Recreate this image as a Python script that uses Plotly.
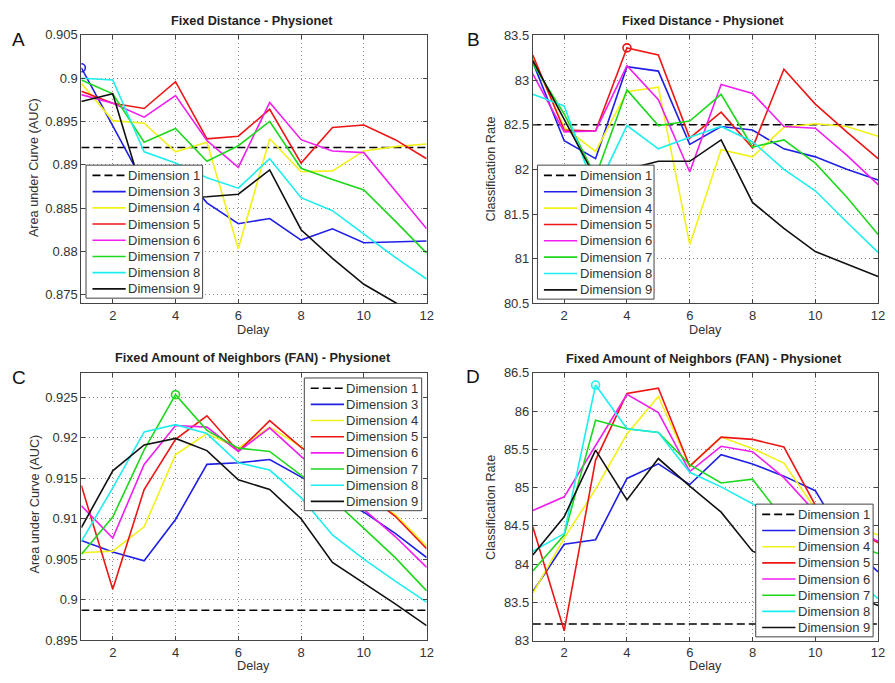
import plotly.graph_objects as go

W, H = 895, 683

delays = [1, 2, 3, 4, 5, 6, 7, 8, 9, 10, 11, 12]
dim_names = ["Dimension 1", "Dimension 3", "Dimension 4", "Dimension 5",
             "Dimension 6", "Dimension 7", "Dimension 8", "Dimension 9"]

# Panel A: Fixed Distance - AUC
A_d1 = [0.892, 0.892, 0.892, 0.892, 0.892, 0.892, 0.892, 0.892, 0.892, 0.892, 0.892, 0.892]
A_d3 = [0.9012, 0.8945, 0.8878, 0.8899, 0.8856, 0.8832, 0.8838, 0.8813, 0.8826, 0.8810, 0.8811, 0.8812]
A_d4 = [0.8994, 0.8951, 0.8948, 0.8915, 0.8926, 0.8803, 0.8930, 0.8892, 0.8893, 0.8916, 0.8921, 0.8924]
A_d5 = [0.8985, 0.8971, 0.8965, 0.8996, 0.8930, 0.8933, 0.8964, 0.8902, 0.8943, 0.8946, 0.8929, 0.8907]
A_d6 = [0.8981, 0.8971, 0.8955, 0.8980, 0.8928, 0.8897, 0.8972, 0.8929, 0.8916, 0.8914, 0.8870, 0.8826]
A_d7 = [0.8998, 0.8982, 0.8926, 0.8942, 0.8904, 0.8922, 0.8950, 0.8896, 0.8883, 0.8871, 0.8835, 0.8798]
A_d8 = [0.9000, 0.8998, 0.8915, 0.8902, 0.8885, 0.8873, 0.8907, 0.8862, 0.8847, 0.8820, 0.8793, 0.8768]
A_d9 = [0.8973, 0.8982, 0.8862, 0.8862, 0.8863, 0.8866, 0.8894, 0.8825, 0.8792, 0.8762, 0.8741, 0.8718]

# Panel B: Fixed Distance - Classification Rate
B_d1 = [82.5, 82.5, 82.5, 82.5, 82.5, 82.5, 82.5, 82.5, 82.5, 82.5, 82.5, 82.5]
B_d3 = [83.20, 82.32, 82.12, 83.15, 83.10, 82.28, 82.48, 82.44, 82.23, 82.14, 82.00, 81.88]
B_d4 = [83.24, 82.47, 82.20, 82.87, 82.92, 81.16, 82.22, 82.14, 82.47, 82.51, 82.48, 82.37]
B_d5 = [83.28, 82.44, 82.43, 83.36, 83.28, 82.35, 82.64, 82.24, 83.12, 82.73, 82.42, 82.12]
B_d6 = [83.07, 82.42, 82.43, 83.16, 82.78, 81.97, 82.95, 82.85, 82.48, 82.46, 82.16, 81.83]
B_d7 = [83.18, 82.62, 81.92, 82.89, 82.49, 82.54, 82.84, 82.25, 82.33, 82.07, 81.69, 81.27]
B_d8 = [82.84, 82.71, 81.75, 82.49, 82.23, 82.36, 82.48, 82.31, 82.00, 81.76, 81.41, 81.07]
B_d9 = [83.22, 82.56, 81.90, 82.00, 82.09, 82.09, 82.33, 81.63, 81.34, 81.08, 80.94, 80.80]

# Panel C: FAN - AUC
C_d1 = [0.8987, 0.8987, 0.8987, 0.8987, 0.8987, 0.8987, 0.8987, 0.8987, 0.8987, 0.8987, 0.8987, 0.8987]
C_d3 = [0.9073, 0.9059, 0.9048, 0.9099, 0.9167, 0.9169, 0.9173, 0.9152, 0.9130, 0.9108, 0.9082, 0.9052]
C_d4 = [0.9058, 0.9060, 0.9090, 0.9179, 0.9205, 0.9187, 0.9213, 0.9189, 0.9160, 0.9130, 0.9105, 0.9066]
C_d5 = [0.9141, 0.9013, 0.9136, 0.9198, 0.9227, 0.9183, 0.9221, 0.9188, 0.9162, 0.9133, 0.9103, 0.9063]
C_d6 = [0.9116, 0.9076, 0.9167, 0.9215, 0.9213, 0.9183, 0.9212, 0.9177, 0.9145, 0.9112, 0.9078, 0.9040]
C_d7 = [0.9056, 0.9102, 0.9185, 0.9253, 0.9209, 0.9187, 0.9183, 0.9154, 0.9124, 0.9088, 0.9052, 0.9011]
C_d8 = [0.9072, 0.9138, 0.9207, 0.9216, 0.9205, 0.9169, 0.9160, 0.9126, 0.9080, 0.9050, 0.9023, 0.8997]
C_d9 = [0.9089, 0.9159, 0.9191, 0.9199, 0.9184, 0.9148, 0.9136, 0.9100, 0.9046, 0.9021, 0.8995, 0.8968]

# Panel D: FAN - Classification Rate
D_d1 = [83.22, 83.22, 83.22, 83.22, 83.22, 83.22, 83.22, 83.22, 83.22, 83.22, 83.22, 83.22]
D_d3 = [83.64, 84.26, 84.32, 85.12, 85.31, 85.04, 85.43, 85.31, 85.15, 84.96, 84.28, 83.90]
D_d4 = [83.62, 84.34, 84.98, 85.70, 86.19, 85.28, 85.66, 85.51, 85.32, 84.72, 84.55, 84.38]
D_d5 = [84.49, 83.13, 85.36, 86.23, 86.30, 85.28, 85.66, 85.63, 85.53, 84.77, 84.52, 84.28]
D_d6 = [84.70, 84.88, 85.55, 86.22, 85.98, 85.21, 85.54, 85.47, 85.13, 84.68, 84.50, 84.30]
D_d7 = [83.91, 84.38, 85.88, 85.77, 85.72, 85.30, 85.06, 85.11, 84.58, 84.40, 84.28, 84.14]
D_d8 = [84.17, 84.40, 86.34, 85.77, 85.72, 85.20, 85.01, 84.79, 84.55, 84.25, 83.90, 83.55]
D_d9 = [84.12, 84.62, 85.49, 84.84, 85.38, 85.02, 84.68, 84.17, 84.00, 83.80, 83.62, 83.46]

# Best points (open circles): (delay, series index in dim list)
A_best = (1, 1)
B_best = (4, 3)
C_best = (4, 5)
D_best = (3, 6)

colors = ["#000000", "#1f1fe6", "#f2f21a", "#ee1515", "#f01ef0", "#1ed81e", "#1eeeee", "#111111"]
dashes = ["8px,4px", "solid", "solid", "solid", "solid", "solid", "solid", "solid"]

panels = [
    dict(series=[A_d1, A_d3, A_d4, A_d5, A_d6, A_d7, A_d8, A_d9], best=A_best,
         title="Fixed Distance - Physionet", ylabel="Area under Curve (AUC)", letter="A",
         yrange=[0.874, 0.905],
         yticks=[0.875, 0.88, 0.885, 0.89, 0.895, 0.9, 0.905],
         yticktext=["0.875", "0.88", "0.885", "0.89", "0.895", "0.9", "0.905"],
         xdom=(82, 430), ydom=(28.5, 303), legend=(86.7, 161.7, 117.5, 136),
         title_pos=(254, 14), letter_pos=(19, 33), ylab_pos=(35, 164), xlab_pos=(256, 330)),
    dict(series=[B_d1, B_d3, B_d4, B_d5, B_d6, B_d7, B_d8, B_d9], best=B_best,
         title="Fixed Distance - Physionet", ylabel="Classification Rate", letter="B",
         yrange=[80.5, 83.5],
         yticks=[80.5, 81, 81.5, 82, 82.5, 83, 83.5],
         yticktext=["80.5", "81", "81.5", "82", "82.5", "83", "83.5"],
         xdom=(537, 885), ydom=(29, 303), legend=(541.7, 161.7, 117.5, 137),
         title_pos=(709, 14), letter_pos=(477, 33), ylab_pos=(495, 166), xlab_pos=(711, 330)),
    dict(series=[C_d1, C_d3, C_d4, C_d5, C_d6, C_d7, C_d8, C_d9], best=C_best,
         title="Fixed Amount of Neighbors (FAN) - Physionet", ylabel="Area under Curve (AUC)", letter="C",
         yrange=[0.895, 0.928],
         yticks=[0.895, 0.9, 0.905, 0.91, 0.915, 0.92, 0.925],
         yticktext=["0.895", "0.9", "0.905", "0.91", "0.915", "0.92", "0.925"],
         xdom=(82, 430), ydom=(374, 647.5), legend=(306.7, 379.3, 118.3, 135.7),
         title_pos=(255, 359), letter_pos=(19, 379), ylab_pos=(35, 508), xlab_pos=(256, 674)),
    dict(series=[D_d1, D_d3, D_d4, D_d5, D_d6, D_d7, D_d8, D_d9], best=D_best,
         title="Fixed Amount of Neighbors (FAN) - Physionet", ylabel="Classification Rate", letter="D",
         yrange=[83, 86.5],
         yticks=[83, 83.5, 84, 84.5, 85, 85.5, 86, 86.5],
         yticktext=["83", "83.5", "84", "84.5", "85", "85.5", "86", "86.5"],
         xdom=(537, 885), ydom=(374, 648), legend=(761.7, 508.3, 118.3, 135.7),
         title_pos=(710, 360), letter_pos=(477, 378), ylab_pos=(495, 512), xlab_pos=(711, 674)),
]

FONT = "Liberation Sans, Arial, Helvetica, sans-serif"
TXT = "#333333"


def px(x):
    return x / W


def py(y):
    return 1 - y / H


fig = go.Figure()
layout = dict(width=W, height=H, margin=dict(l=0, r=0, t=0, b=0),
              paper_bgcolor="white", plot_bgcolor="white", showlegend=False,
              font=dict(family=FONT, size=13, color=TXT), annotations=[], shapes=[])

for i, p in enumerate(panels):
    n = i + 1
    xa = "x" if n == 1 else f"x{n}"
    ya = "y" if n == 1 else f"y{n}"
    for j, (vals, name) in enumerate(zip(p["series"], dim_names)):
        fig.add_trace(go.Scatter(
            x=delays, y=vals, mode="lines", name=name, xaxis=xa, yaxis=ya,
            line=dict(color=colors[j], width=1.6, dash=dashes[j]), hoverinfo="skip"))
    bx, bs = p["best"]
    fig.add_trace(go.Scatter(
        x=[bx], y=[p["series"][bs][delays.index(bx)]], mode="markers", showlegend=False,
        xaxis=xa, yaxis=ya,
        marker=dict(symbol="circle-open", size=8, color=colors[bs], line=dict(width=1.6)),
        hoverinfo="skip"))

    axcommon = dict(showline=True, linecolor="#444444", linewidth=1, mirror="allticks",
                    ticks="inside", ticklen=4, tickcolor="#444444",
                    showgrid=True, gridcolor="#8a8a8a", griddash="1px,3px", gridwidth=1,
                    zeroline=False, tickfont=dict(family=FONT, size=13, color=TXT))
    layout["xaxis" if n == 1 else f"xaxis{n}"] = dict(
        axcommon, domain=[px(p["xdom"][0]), px(p["xdom"][1])], range=[1, 12],
        tickvals=[2, 4, 6, 8, 10, 12], anchor=ya)
    layout["yaxis" if n == 1 else f"yaxis{n}"] = dict(
        axcommon, domain=[py(p["ydom"][1]), py(p["ydom"][0])], range=p["yrange"],
        tickvals=p["yticks"], ticktext=p["yticktext"], anchor=xa)

    ann = layout["annotations"]
    shp = layout["shapes"]
    ann.append(dict(text="<b>" + p["title"] + "</b>", x=px(p["title_pos"][0]), y=py(p["title_pos"][1]),
                    xref="paper", yref="paper", showarrow=False, xanchor="center", yanchor="middle",
                    font=dict(family=FONT, size=12.7, color="#222222")))
    ann.append(dict(text=p["letter"], x=px(p["letter_pos"][0]), y=py(p["letter_pos"][1]),
                    xref="paper", yref="paper", showarrow=False, xanchor="center", yanchor="middle",
                    font=dict(family=FONT, size=19, color="#111111")))
    ann.append(dict(text=p["ylabel"], x=px(p["ylab_pos"][0]), y=py(p["ylab_pos"][1]),
                    xref="paper", yref="paper", showarrow=False, xanchor="center", yanchor="middle",
                    textangle=-90, font=dict(family=FONT, size=12.7, color=TXT)))
    ann.append(dict(text="Delay", x=px(p["xlab_pos"][0]), y=py(p["xlab_pos"][1]),
                    xref="paper", yref="paper", showarrow=False, xanchor="center", yanchor="middle",
                    font=dict(family=FONT, size=12.7, color=TXT)))

    # Legend box (MATLAB style, tighter row spacing than Plotly's built-in legend)
    L, T, LW, LH = p["legend"]
    shp.append(dict(type="rect", xref="paper", yref="paper", layer="above",
                    x0=px(L), x1=px(L + LW), y0=py(T + LH), y1=py(T),
                    fillcolor="white", line=dict(color="#444444", width=1)))
    step = (LH - 20) / 7.0
    for j, name in enumerate(dim_names):
        cy = T + 10.5 + step * j
        shp.append(dict(type="line", xref="paper", yref="paper", layer="above",
                        x0=px(L + 6.5), x1=px(L + 40), y0=py(cy), y1=py(cy),
                        line=dict(color=colors[j], width=1.6, dash=dashes[j])))
        ann.append(dict(text=name, x=px(L + 40.5), y=py(cy), xref="paper", yref="paper",
                        showarrow=False, xanchor="left", yanchor="middle",
                        font=dict(family=FONT, size=13, color=TXT)))

fig.update_layout(**layout)
fig.write_html("out.html")
